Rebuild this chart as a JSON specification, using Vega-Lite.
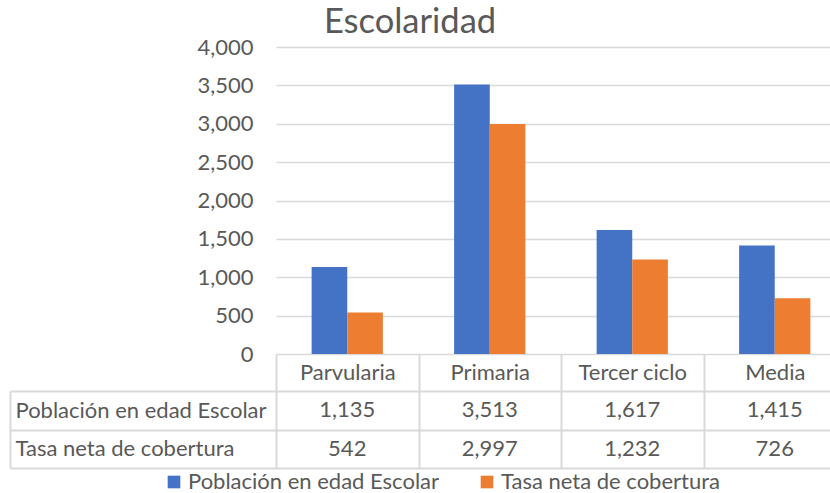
{
  "$schema": "https://vega.github.io/schema/vega-lite/v6.json",
  "padding": {"left": 9, "top": 4, "right": 0, "bottom": 0},
  "config": {"font": "Lato", "view": {"stroke": null}},
  "title": {"text": "Escolaridad", "fontSize": 34.5, "font": "Lato", "fontWeight": "normal", "color": "#595959", "anchor": "middle", "frame": "bounds", "offset": -4, "dx": -18},
  "datasets": {
    "d": [
      {"categoria": "Parvularia", "serie": "Población en edad Escolar", "valor": 1135},
      {"categoria": "Parvularia", "serie": "Tasa neta de cobertura", "valor": 542},
      {"categoria": "Primaria", "serie": "Población en edad Escolar", "valor": 3513},
      {"categoria": "Primaria", "serie": "Tasa neta de cobertura", "valor": 2997},
      {"categoria": "Tercer ciclo", "serie": "Población en edad Escolar", "valor": 1617},
      {"categoria": "Tercer ciclo", "serie": "Tasa neta de cobertura", "valor": 1232},
      {"categoria": "Media", "serie": "Población en edad Escolar", "valor": 1415},
      {"categoria": "Media", "serie": "Tasa neta de cobertura", "valor": 726}
    ]
  },
  "bounds": "flush",
  "spacing": 37,
  "vconcat": [
    {
      "width": 570,
      "height": 307,
      "data": {"name": "d"},
      "mark": {"type": "bar"},
      "encoding": {
        "x": {"field": "categoria", "type": "nominal", "sort": ["Parvularia", "Primaria", "Tercer ciclo", "Media"], "axis": null, "scale": {"paddingInner": 0.5, "paddingOuter": 0.25}},
        "xOffset": {"field": "serie", "sort": ["Población en edad Escolar", "Tasa neta de cobertura"]},
        "y": {"field": "valor", "type": "quantitative", "scale": {"domain": [0, 4000]}, "axis": {"values": [0, 500, 1000, 1500, 2000, 2500, 3000, 3500, 4000], "format": ",.0f", "domain": false, "ticks": false, "gridColor": "#d9d9d9", "gridWidth": 1.5, "labelPadding": 23, "labelFontSize": 22, "labelColor": "#595959", "title": null}},
        "color": {"field": "serie", "type": "nominal", "sort": ["Población en edad Escolar", "Tasa neta de cobertura"], "scale": {"range": ["#4472C4", "#ED7D31"]}, "legend": {"orient": "none", "legendX": -113, "legendY": 424, "direction": "horizontal", "title": null, "symbolType": "square", "symbolSize": 160, "symbolStrokeWidth": 0, "labelOffset": 3, "labelFontSize": 22, "labelColor": "#595959", "labelLimit": 400, "columnPadding": 36}}
      }
    },
    {
      "width": 570,
      "height": 77,
      "data": {"name": "d"},
      "mark": {"type": "text", "fontSize": 22, "color": "#595959"},
      "encoding": {
        "x": {"field": "categoria", "type": "nominal", "sort": ["Parvularia", "Primaria", "Tercer ciclo", "Media"], "scale": {"paddingInner": 0, "paddingOuter": 0}, "axis": {"orient": "top", "title": null, "tickBand": "extent", "tickSize": 37, "tickColor": "#d9d9d9", "tickWidth": 2, "domain": false, "grid": true, "gridColor": "#d9d9d9", "gridWidth": 2, "labelAngle": 0, "labelPadding": -18.5, "labelBaseline": "middle", "labelFontSize": 22, "labelColor": "#595959"}},
        "y": {"field": "serie", "type": "nominal", "sort": ["Población en edad Escolar", "Tasa neta de cobertura"], "scale": {"paddingInner": 0, "paddingOuter": 0}, "axis": {"title": null, "offset": 266, "tickBand": "extent", "tickSize": -266, "tickColor": "#d9d9d9", "tickWidth": 2, "domain": true, "domainColor": "#d9d9d9", "domainWidth": 2, "grid": true, "gridColor": "#d9d9d9", "gridWidth": 2, "labelAlign": "left", "labelPadding": 261, "labelLimit": 300, "labelFontSize": 22, "labelColor": "#595959"}},
        "text": {"field": "valor", "type": "quantitative", "format": ","}
      }
    }
  ],
  "resolve": {"scale": {"x": "independent", "y": "independent"}}
}
